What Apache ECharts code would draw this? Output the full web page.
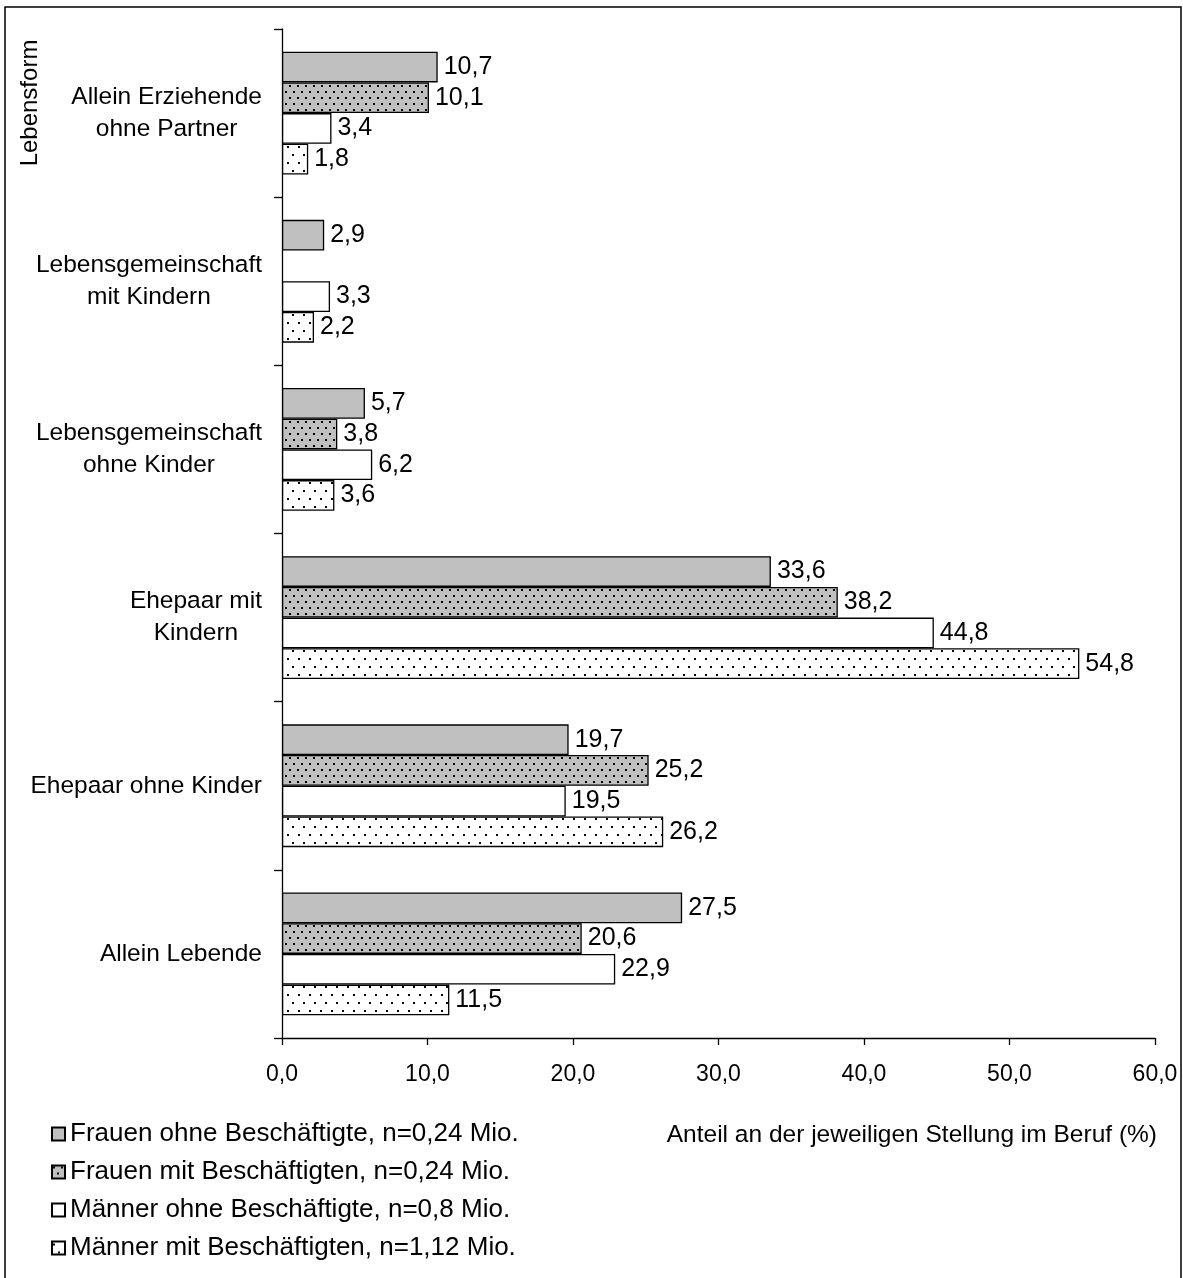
<!DOCTYPE html>
<html>
<head>
<meta charset="utf-8">
<script src="https://cdn.jsdelivr.net/npm/echarts@6/dist/echarts.min.js"></script>
<style>
  html, body { margin: 0; padding: 0; background: #fff; }
  #chart { width: 1183px; height: 1278px; }
</style>
</head>
<body>
<div id="chart"></div>
<script>
// Lebensformen nach Stellung im Beruf (Anteile in %)
const categories = [
  'Allein Erziehende\nohne Partner',
  'Lebensgemeinschaft\nmit Kindern',
  'Lebensgemeinschaft\nohne Kinder',
  'Ehepaar mit\nKindern',
  'Ehepaar ohne Kinder',
  'Allein Lebende'
];
const seriesNames = [
  'Frauen ohne Beschäftigte, n=0,24 Mio.',
  'Frauen mit Beschäftigten, n=0,24 Mio.',
  'Männer ohne Beschäftigte, n=0,8 Mio.',
  'Männer mit Beschäftigten, n=1,12 Mio.'
];
const frauenOhne = [10.7, 2.9, 5.7, 33.6, 19.7, 27.5];
const frauenMit = [10.1, null, 3.8, 38.2, 25.2, 20.6];
const maennerOhne = [3.4, 3.3, 6.2, 44.8, 19.5, 22.9];
const maennerMit = [1.8, 2.2, 3.6, 54.8, 26.2, 11.5];
const xTicks = { min: 0, max: 60, interval: 10 };

const FONT = '"Liberation Sans", Arial, sans-serif';

// dotted fills drawn into small repeating tiles
function dotTile(w, h, bg, dots) {
  const c = document.createElement('canvas');
  c.width = w; c.height = h;
  const ctx = c.getContext('2d');
  ctx.fillStyle = bg;
  ctx.fillRect(0, 0, w, h);
  ctx.fillStyle = '#000';
  dots.forEach(function (d) { ctx.fillRect(d[0], d[1], 2, 2); });
  return { image: c, repeat: 'repeat' };
}
const greyDots = dotTile(8, 12, '#c0c0c0', [[1, 1], [5, 7]]);
const whiteDots = dotTile(11, 16, '#ffffff', [[1, 2], [6, 10]]);

const fills = ['#c0c0c0', greyDots, '#ffffff', whiteDots];
const values = [frauenOhne, frauenMit, maennerOhne, maennerMit];

const fmt = function (v) { return v.toFixed(1).replace('.', ','); };

const chart = echarts.init(document.getElementById('chart'), null, { renderer: 'canvas' });

chart.setOption({
  backgroundColor: '#fff',
  animation: false,
  textStyle: { fontFamily: FONT, color: '#000' },
  grid: { left: 282, right: 28, top: 29, bottom: 240, containLabel: false },
  xAxis: {
    type: 'value',
    min: xTicks.min,
    max: xTicks.max,
    interval: xTicks.interval,
    splitLine: { show: false },
    axisLine: { show: true, lineStyle: { color: '#000', width: 1.3 } },
    axisTick: { show: true, inside: false, length: 7, lineStyle: { color: '#000', width: 1.3 } },
    axisLabel: {
      margin: 25,
      fontSize: 23,
      color: '#000',
      fontFamily: FONT,
      formatter: function (v) { return fmt(v); }
    }
  },
  yAxis: {
    type: 'category',
    inverse: true,
    data: categories,
    axisLine: { show: true, lineStyle: { color: '#000', width: 1.3 } },
    axisTick: { show: true, inside: false, length: 8, lineStyle: { color: '#000', width: 1.3 } },
    axisLabel: {
      margin: 20,
      fontSize: 24.5,
      color: '#000',
      fontFamily: FONT,
      lineHeight: 32,
      align: 'right',
      formatter: function (v) {
        return v.split('\n').map(function (s) { return '{c|' + s + '}'; }).join('\n');
      },
      rich: {
        c: { align: 'center', fontSize: 24.5, lineHeight: 32, fontFamily: FONT, color: '#000' }
      }
    }
  },
  legend: {
    orient: 'vertical',
    left: 51,
    top: 1121,
    padding: 0,
    itemWidth: 13,
    itemHeight: 13,
    itemGap: 12,
    itemTextGap: 6,
    icon: 'rect',
    textStyle: { fontSize: 26, fontFamily: FONT, color: '#000' },
    data: seriesNames
  },
  series: values.map(function (arr, i) {
    return {
      type: 'bar',
      name: seriesNames[i],
      data: arr,
      barGap: '0%',
      barCategoryGap: '27%',
      itemStyle: { color: fills[i], borderColor: '#000', borderWidth: 1.3 },
      label: {
        show: true,
        position: 'right',
        distance: 6,
        fontSize: 25,
        fontFamily: FONT,
        color: '#000',
        formatter: function (p) { return fmt(p.value); }
      }
    };
  }),
  graphic: [
    {
      type: 'rect',
      silent: true,
      z: -10,
      shape: { x: 5, y: 7, width: 1176, height: 1300 },
      style: { fill: 'none', stroke: '#000', lineWidth: 1.5 }
    },
    {
      type: 'text',
      x: 30,
      y: 103,
      rotation: Math.PI / 2,
      style: {
        text: 'Lebensform',
        font: '24px ' + FONT,
        fill: '#000',
        align: 'center',
        verticalAlign: 'middle'
      }
    },
    {
      type: 'text',
      x: 1157,
      y: 1135,
      style: {
        text: 'Anteil an der jeweiligen Stellung im Beruf (%)',
        font: '24.5px ' + FONT,
        fill: '#000',
        align: 'right',
        verticalAlign: 'middle'
      }
    }
  ]
});
</script>
</body>
</html>
